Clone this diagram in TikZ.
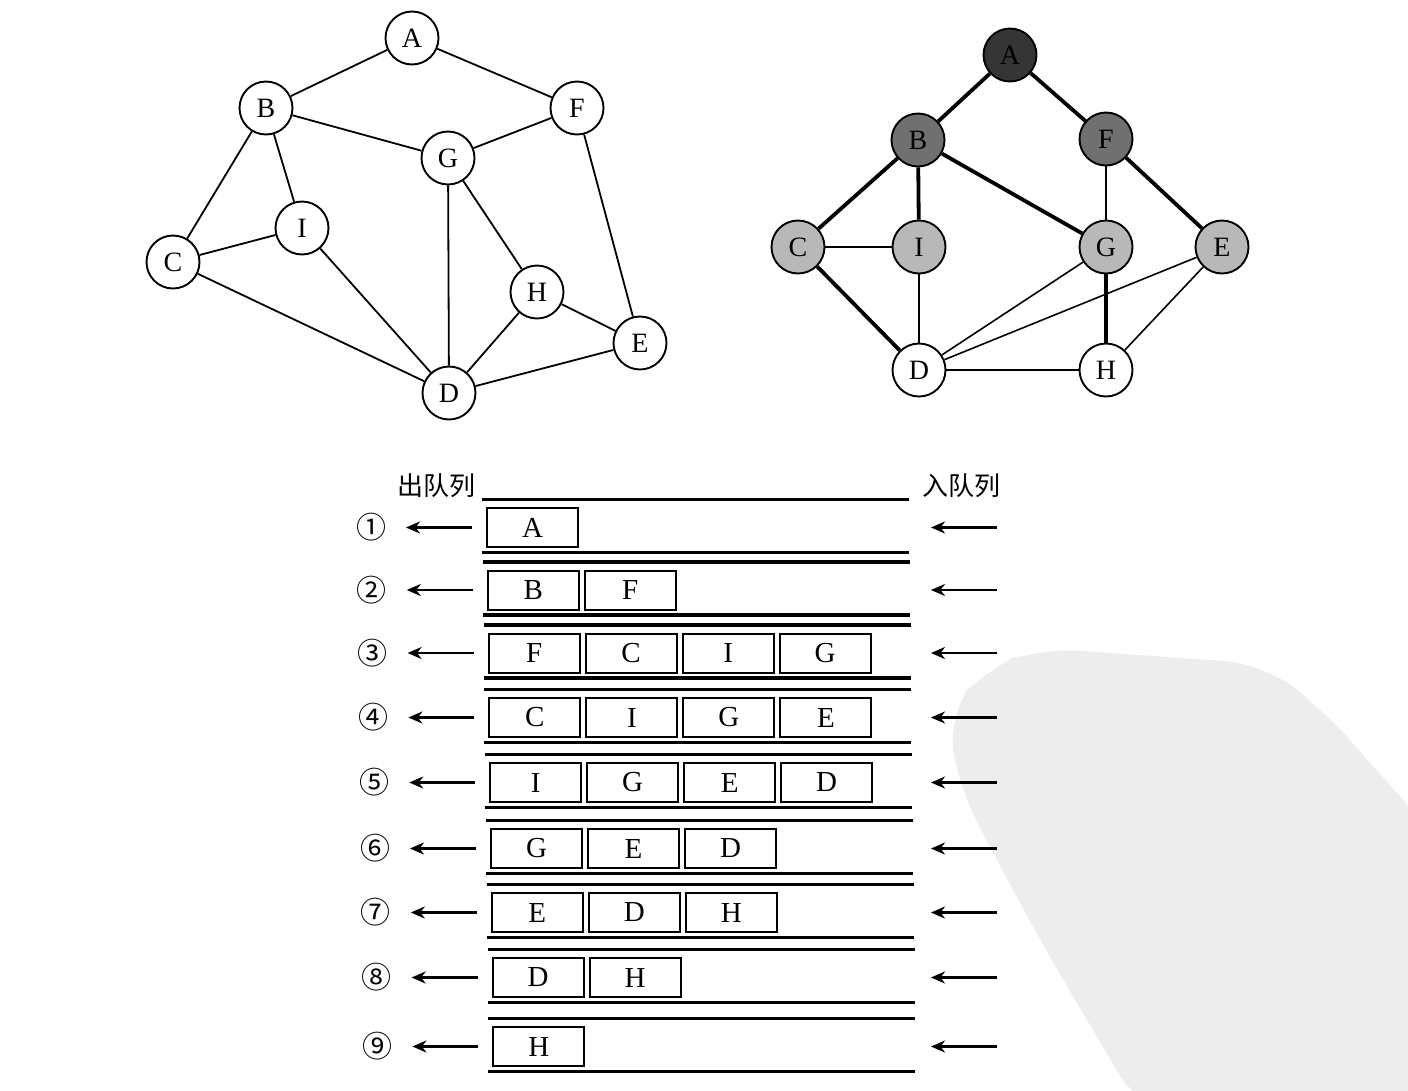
\documentclass[tikz,border=0pt]{standalone}
\usepackage{fontspec}
\setmainfont{Liberation Serif}
\newfontfamily\cjk{Noto Sans CJK SC}
\usetikzlibrary{arrows.meta}
\definecolor{darkA}{HTML}{353535}
\definecolor{midB}{HTML}{707070}
\definecolor{lightC}{HTML}{B8B8B8}
\definecolor{wmark}{HTML}{EDEDED}
\begin{document}
\begin{tikzpicture}[x=1pt,y=-1pt,
  vtx/.style={circle,draw,line width=1.9pt,minimum size=53pt,inner sep=0pt,fill=white,
              font=\fontsize{28}{28}\selectfont},
  edge/.style={line width=1.8pt},
  thickedge/.style={line width=3.8pt},
  thinedge/.style={line width=1.6pt},
  qbox/.style={draw,line width=2pt,minimum width=91pt,minimum height=39pt,inner sep=0pt,
               font=\fontsize{29}{29}\selectfont},
  wall/.style={line width=3.8pt},
  arr/.style={line width=2.6pt,-{Stealth[length=14pt,width=12pt]}},
  lbl/.style={font=\cjk\fontsize{26}{26}\selectfont,inner sep=0pt},
  num/.style={font=\cjk\fontsize{30}{30}\selectfont,inner sep=0pt}
]
\useasboundingbox (0,0) rectangle (1408,1090);

% watermark blob
\fill[wmark,rounded corners=40pt] (1140,1110) -- (1040,940) -- (962,795) -- (946,715) -- (985,668) -- (1040,648) -- (1265,664) -- (1325,712) -- (1430,830) -- (1430,1110) -- cycle;

% ---------------- left graph ----------------
\node[vtx] (lA) at (412,38) {A};
\node[vtx] (lB) at (266,108) {B};
\node[vtx] (lF) at (577,108) {F};
\node[vtx] (lG) at (448,158) {G};
\node[vtx] (lI) at (302,228) {I};
\node[vtx] (lC) at (173,262) {C};
\node[vtx] (lH) at (537,292) {H};
\node[vtx] (lE) at (640,343) {E};
\node[vtx] (lD) at (449,393) {D};
\foreach \u/\v in {lA/lB,lA/lF,lB/lG,lF/lG,lB/lC,lB/lI,lC/lI,lC/lD,lI/lD,lG/lD,lG/lH,lF/lE,lH/lE,lH/lD,lD/lE}
  \draw[edge] (\u) -- (\v);

% ---------------- right graph ----------------
\node[vtx,fill=darkA]  (rA) at (1010,55) {A};
\node[vtx,fill=midB]   (rB) at (918,140) {B};
\node[vtx,fill=midB]   (rF) at (1106,139) {F};
\node[vtx,fill=lightC] (rC) at (798,247) {C};
\node[vtx,fill=lightC] (rI) at (919,247) {I};
\node[vtx,fill=lightC] (rG) at (1106,247) {G};
\node[vtx,fill=lightC] (rE) at (1222,247) {E};
\node[vtx] (rD) at (919,370) {D};
\node[vtx] (rH) at (1106,370) {H};
\foreach \u/\v in {rA/rB,rA/rF,rB/rC,rB/rI,rB/rG,rF/rE,rC/rD,rG/rH}
  \draw[thickedge] (\u) -- (\v);
\foreach \u/\v in {rF/rG,rC/rI,rI/rD,rG/rD,rE/rD,rE/rH,rD/rH}
  \draw[thinedge] (\u) -- (\v);

% ---------------- queue ----------------
\node[lbl] (outq) at (436,486) {出队列};
\node[lbl] (inq) at (961,486) {入队列};

\foreach \i/\yy/\items/\n in {1/527.5/{A}/①,2/590/{B,F}/②,3/653/{F,C,I,G}/③,
    4/717.5/{C,I,G,E}/④,5/782.5/{I,G,E,D}/⑤,6/848.5/{G,E,D}/⑥,
    7/912.5/{E,D,H}/⑦,8/977.5/{D,H}/⑧,9/1046.5/{H}/⑨}{
  \pgfmathsetmacro{\dx}{0.8*(\i-1)}
  \draw[wall] (482+\dx,\yy-28) -- (909+\dx,\yy-28);
  \draw[wall] (482+\dx,\yy+25) -- (909+\dx,\yy+25);
  \foreach \t [count=\k] in \items {
    \node[qbox] (q\i-\k) at ({532.5+97*(\k-1)+\dx},\yy) {\t};
  }
  \node[num] (n\i) at (371+\dx,\yy) {\n};
  \coordinate (lo\i) at (472+\dx,\yy);
  \coordinate (li\i) at (406+\dx,\yy);
  \draw[arr] (lo\i) -- (li\i);
  \coordinate (ro\i) at (997,\yy);
  \coordinate (ri\i) at (931,\yy);
  \draw[arr] (ro\i) -- (ri\i);
}
\end{tikzpicture}
\end{document}
